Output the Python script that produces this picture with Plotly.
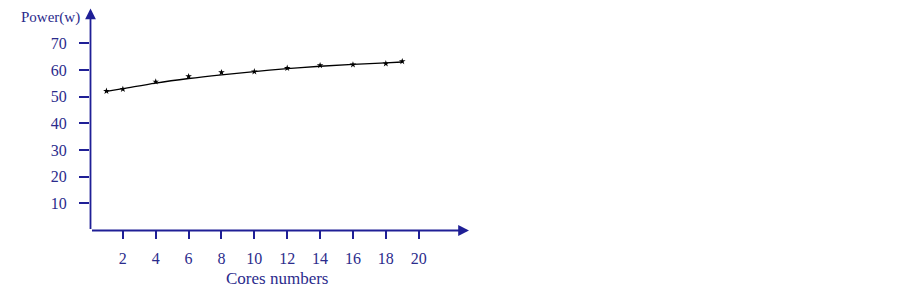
import plotly.graph_objects as go

cores = [1, 2, 4, 6, 8, 10, 12, 14, 16, 18, 19]
power_measured = [52.1, 52.8, 55.6, 57.6, 59.1, 59.4, 60.7, 61.7, 62.0, 62.4, 63.2]
power_fit = [52.0, 53.0, 55.1, 56.8, 58.2, 59.4, 60.5, 61.4, 62.1, 62.7, 63.0]
x_ticks = [2, 4, 6, 8, 10, 12, 14, 16, 18, 20]
y_ticks = [10, 20, 30, 40, 50, 60, 70]

NAVY = "#1f1f96"
TXT = "#2b2b8c"
FONT = "Liberation Serif"
OFF = 8  # page body margin
W, H = 903 - OFF, 296 - OFF
L, R, T, B = 82, 435, 0, 66

fig = go.Figure()
fig.add_trace(go.Scatter(x=cores, y=power_fit, mode="lines", line=dict(color="black", width=1.3, shape="spline"),
                         hoverinfo="skip", showlegend=False, cliponaxis=False))
fig.add_trace(go.Scatter(x=cores, y=power_measured, mode="markers", cliponaxis=False,
                         marker=dict(symbol="star", size=5, color="black"), showlegend=False))

def px(xp, yp):
    # page pixel -> paper/domain coords
    return (xp - OFF - L) / (W - L - R), 1 - (yp - OFF - T) / (H - T - B)

ax0x, ax0y = px(90.5, 230.5)
xtip, _ = px(469, 230.5)
_, ytip = px(90.5, 8.5)
fig.add_annotation(x=xtip, y=ax0y, ax=ax0x, ay=ax0y, xref="x domain", yref="y domain",
                   axref="x domain", ayref="y domain",
                   text="", showarrow=True, arrowhead=2, arrowsize=1.2, arrowwidth=1.8, arrowcolor=NAVY)
fig.add_annotation(x=ax0x, y=ytip, ax=ax0x, ay=ax0y, xref="x domain", yref="y domain",
                   axref="x domain", ayref="y domain",
                   text="", showarrow=True, arrowhead=2, arrowsize=1.2, arrowwidth=1.8, arrowcolor=NAVY)

x1, y1 = px(50, 18)
fig.add_annotation(x=x1, y=y1, xref="paper", yref="paper", text="Power(w)", showarrow=False,
                   xanchor="center", yanchor="middle",
                   font=dict(family=FONT, size=15, color=TXT))
x2, y2 = px(277, 278)
fig.add_annotation(x=x2, y=y2, xref="paper", yref="paper", text="Cores numbers", showarrow=False,
                   xanchor="center", yanchor="middle",
                   font=dict(family=FONT, size=17, color=TXT))

XMAX = 23
YMAX = (H - T - B) / 2.667
fig.update_layout(
    width=W, height=H,
    margin=dict(l=L, r=R, t=T, b=B, autoexpand=False),
    plot_bgcolor="white", paper_bgcolor="white",
    xaxis=dict(range=[0, XMAX], tickvals=x_ticks, ticks="outside", ticklen=8, tickwidth=1.5,
               tickcolor=NAVY, showgrid=False, zeroline=False, showline=False, automargin=False,
               ticklabelstandoff=6,
               tickfont=dict(family=FONT, size=16, color=TXT)),
    yaxis=dict(range=[0, YMAX], tickvals=y_ticks, ticks="outside", ticklen=10, tickwidth=1.5,
               tickcolor=NAVY, showgrid=False, zeroline=False, showline=False, automargin=False,
               ticklabelstandoff=9,
               tickfont=dict(family=FONT, size=16, color=TXT)),
)
fig.write_html("out.html")
